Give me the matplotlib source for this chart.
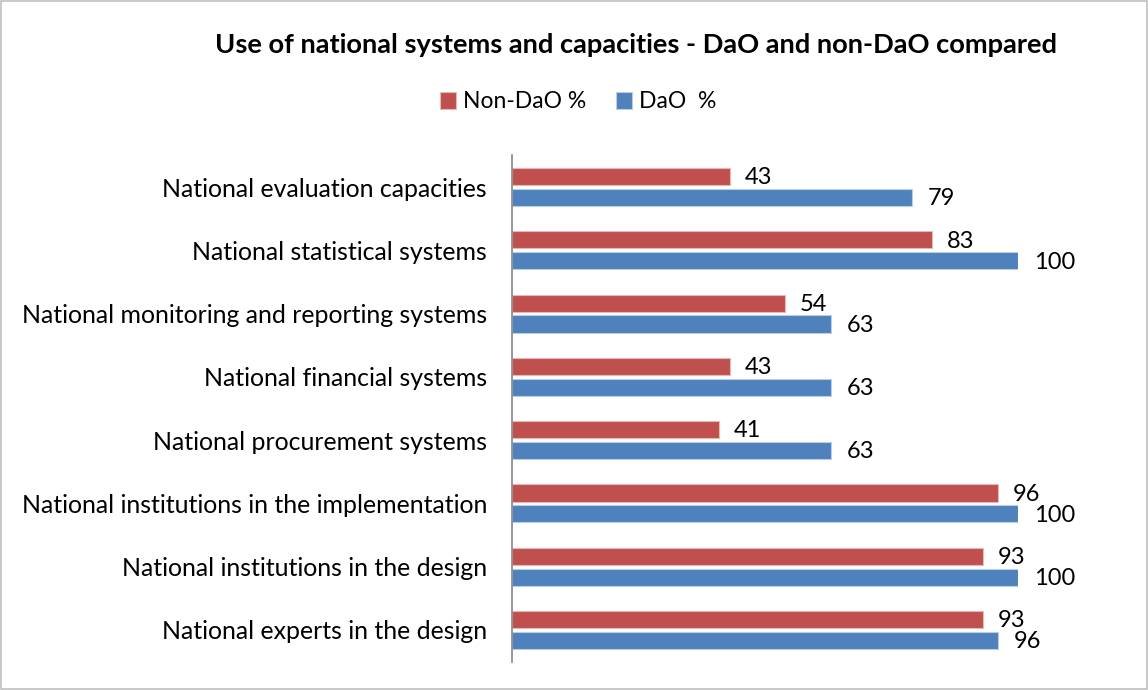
import matplotlib
matplotlib.use("Agg")
import matplotlib.pyplot as plt
import numpy as np
from matplotlib.patches import Rectangle

categories = [
    "National evaluation capacities",
    "National statistical systems",
    "National monitoring and reporting systems",
    "National financial systems",
    "National procurement systems",
    "National institutions in the implementation",
    "National institutions in the design",
    "National experts in the design",
]
non_dao = [43, 83, 54, 43, 41, 96, 93, 93]
dao = [79, 100, 63, 63, 63, 100, 100, 96]
series_names = ["Non-DaO %", "DaO  %"]

plt.rcParams['font.family'] = ['Lato', 'DejaVu Sans']

W, H = 1148, 690
fig = plt.figure(figsize=(W / 100, H / 100), dpi=100)
ax = fig.add_axes([512 / W, 1 - 661.6 / H, (1018 - 512) / W, (661.6 - 155.4) / H])

red = "#C0504D"
blue = "#4F81BD"
y = np.arange(len(categories))
h = 0.27
off = 0.165
b1 = ax.barh(y - off, non_dao, height=h, color=red, edgecolor="#E6B9B8", linewidth=0.8, label=series_names[0])
b2 = ax.barh(y + off, dao, height=h, color=blue, edgecolor="#B9CDE5", linewidth=0.8, label=series_names[1])

for yi, v in zip(y - off, non_dao):
    ax.text(v + 2.9, yi + 0.02, str(v), va="center", ha="left", fontsize=17, clip_on=False)
for yi, v in zip(y + off, dao):
    ax.text(v + 3.2, yi + 0.02, str(v), va="center", ha="left", fontsize=17, clip_on=False)

ax.set_xlim(0, 100)
ax.set_ylim(len(categories) - 0.5, -0.5)
ax.set_yticks(y)
ax.set_yticklabels(categories, fontsize=17.9)
ax.tick_params(axis="y", length=0, pad=18)
ax.set_xticks([])
for s in ["top", "right", "bottom"]:
    ax.spines[s].set_visible(False)
ax.spines["left"].set_color("#868686")
ax.spines["left"].set_linewidth(1.2)

fig.text(636 / W, 1 - 45 / H, "Use of national systems and capacities - DaO and non-DaO compared",
         ha="center", va="center", fontsize=19.6, fontweight="bold")

fig.legend(handles=[b1, b2], labels=series_names, loc="center", bbox_to_anchor=(578 / W, 1 - 102 / H),
           ncol=2, frameon=False, fontsize=16.5, handlelength=0.7, handleheight=0.7,
           handletextpad=0.3, columnspacing=1.3)

fig.patches.append(Rectangle((0.001, 0.001), 0.998, 0.998, transform=fig.transFigure,
                             fill=False, edgecolor="#BFBFBF", linewidth=1.2))

fig.savefig("out.png", dpi=100, facecolor="white")
